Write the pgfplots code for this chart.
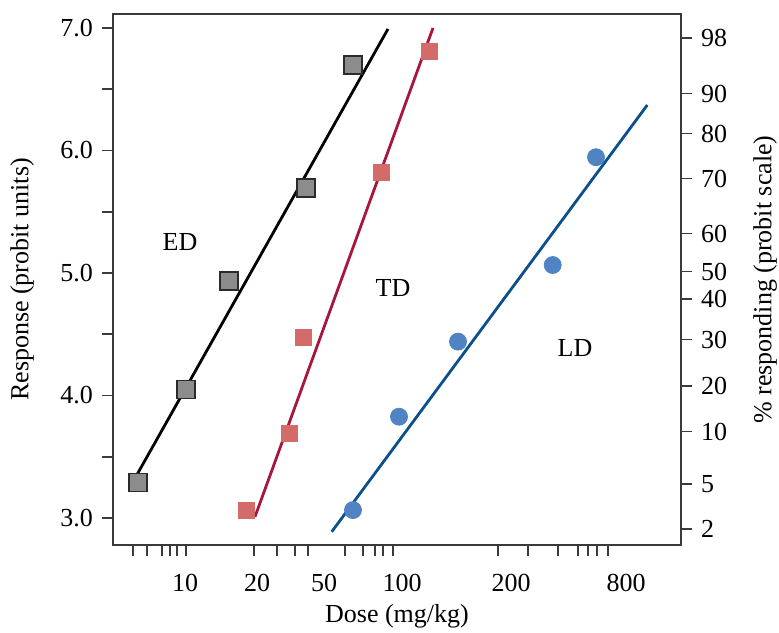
\documentclass[border=0pt]{standalone}
\usepackage{fontspec}
\setmainfont{Liberation Serif}
\usepackage{pgfplots}
\pgfplotsset{compat=1.18}

\definecolor{edfill}{HTML}{8C8C8C}
\definecolor{edline}{HTML}{2B2B2B}
\definecolor{tdfill}{HTML}{D46B6B}
\definecolor{tdline}{HTML}{A8163C}
\definecolor{ldfill}{HTML}{4F83C4}
\definecolor{ldline}{HTML}{0D4F8B}
\definecolor{axgray}{HTML}{3A3A3A}

% x runs in the figure's own dose positions (the printed dose scale is irregular)
\pgfplotsset{
  base/.style={
    scale only axis, width=284pt, height=265.5pt,
    xmin=113, xmax=681, ymin=2.78, ymax=7.114,
    axis line style={axgray, line width=0.8pt},
    tick style={axgray, line width=0.8pt},
    tick align=outside, major tick length=5.5pt, minor tick length=5.5pt,
    /pgf/number format/assume math mode=true,
  }
}

\begin{document}
\fontsize{13}{15}\selectfont
\begin{tikzpicture}
\useasboundingbox (-56.5pt,-43.5pt) rectangle (333pt,272.5pt);
\begin{axis}[base,
  xtick pos=left, ytick pos=left,
  xtick={133,147,162,170,177,186,254,277,295,308,345,363,375,383,393,498,528,558,578,588,597,608},
  xticklabels={},
  extra x ticks={185,257,324,402,511,626},
  extra x tick labels={10,20,50,100,200,800},
  extra x tick style={major tick length=0pt, tick style={draw=none},
    tick label style={yshift=-10pt}},
  ytick={3,4,5,6,7}, minor ytick={3.5,4.5,5.5,6.5},
  yticklabel style={/pgf/number format/.cd, fixed, fixed zerofill, precision=1},
  xlabel={Dose (mg/kg)},
  xlabel style={at={(axis description cs:0.5,0)}, anchor=base, yshift=-38.5pt},
  ylabel={Response (probit units)},
  ylabel style={at={(axis description cs:-0.160,0.5)}, anchor=center},
]
% fitted lines
\addplot[black, line width=1.4pt] coordinates {(130,3.253) (388,6.992)};
\addplot[tdline, line width=1.4pt] coordinates {(255,3.011) (433,7.0)};
\addplot[ldline, line width=1.4pt] coordinates {(331.7,2.888) (647.3,6.371)};
% ED
\addplot[only marks, mark=square*, mark size=4.5pt,
  mark options={fill=edfill, draw=edline, line width=0.9pt}]
  coordinates {(138,3.29) (186,4.05) (229,4.937) (306,5.696) (353,6.698)};
% TD
\addplot[only marks, mark=square*, mark size=4pt, mark options={fill=tdfill, draw=tdfill}]
  coordinates {(246.7,3.065) (289,3.69) (303,4.478) (381,5.82) (429,6.806)};
% LD
\addplot[only marks, mark=*, mark size=4.25pt, mark options={fill=ldfill, draw=ldfill}]
  coordinates {(353,3.065) (399,3.827) (458,4.44) (552.7,5.065) (596,5.945)};
\node at (axis cs:180,5.253) {ED};
\node at (axis cs:393,4.878) {TD};
\node at (axis cs:575,4.388) {LD};
\end{axis}
\begin{axis}[base,
  hide x axis, ytick pos=right, yticklabel pos=right,
  ytick={2.913,3.28,3.705,4.08,4.456,4.79,5.011,5.321,5.77,6.137,6.464,6.92},
  yticklabels={2,5,10,20,30,40,50,60,70,80,90,98},
  ylabel={\% responding (probit scale)},
  ylabel style={at={(axis description cs:1.148,0.5)}, anchor=center},
]
\end{axis}
\end{tikzpicture}
\end{document}
